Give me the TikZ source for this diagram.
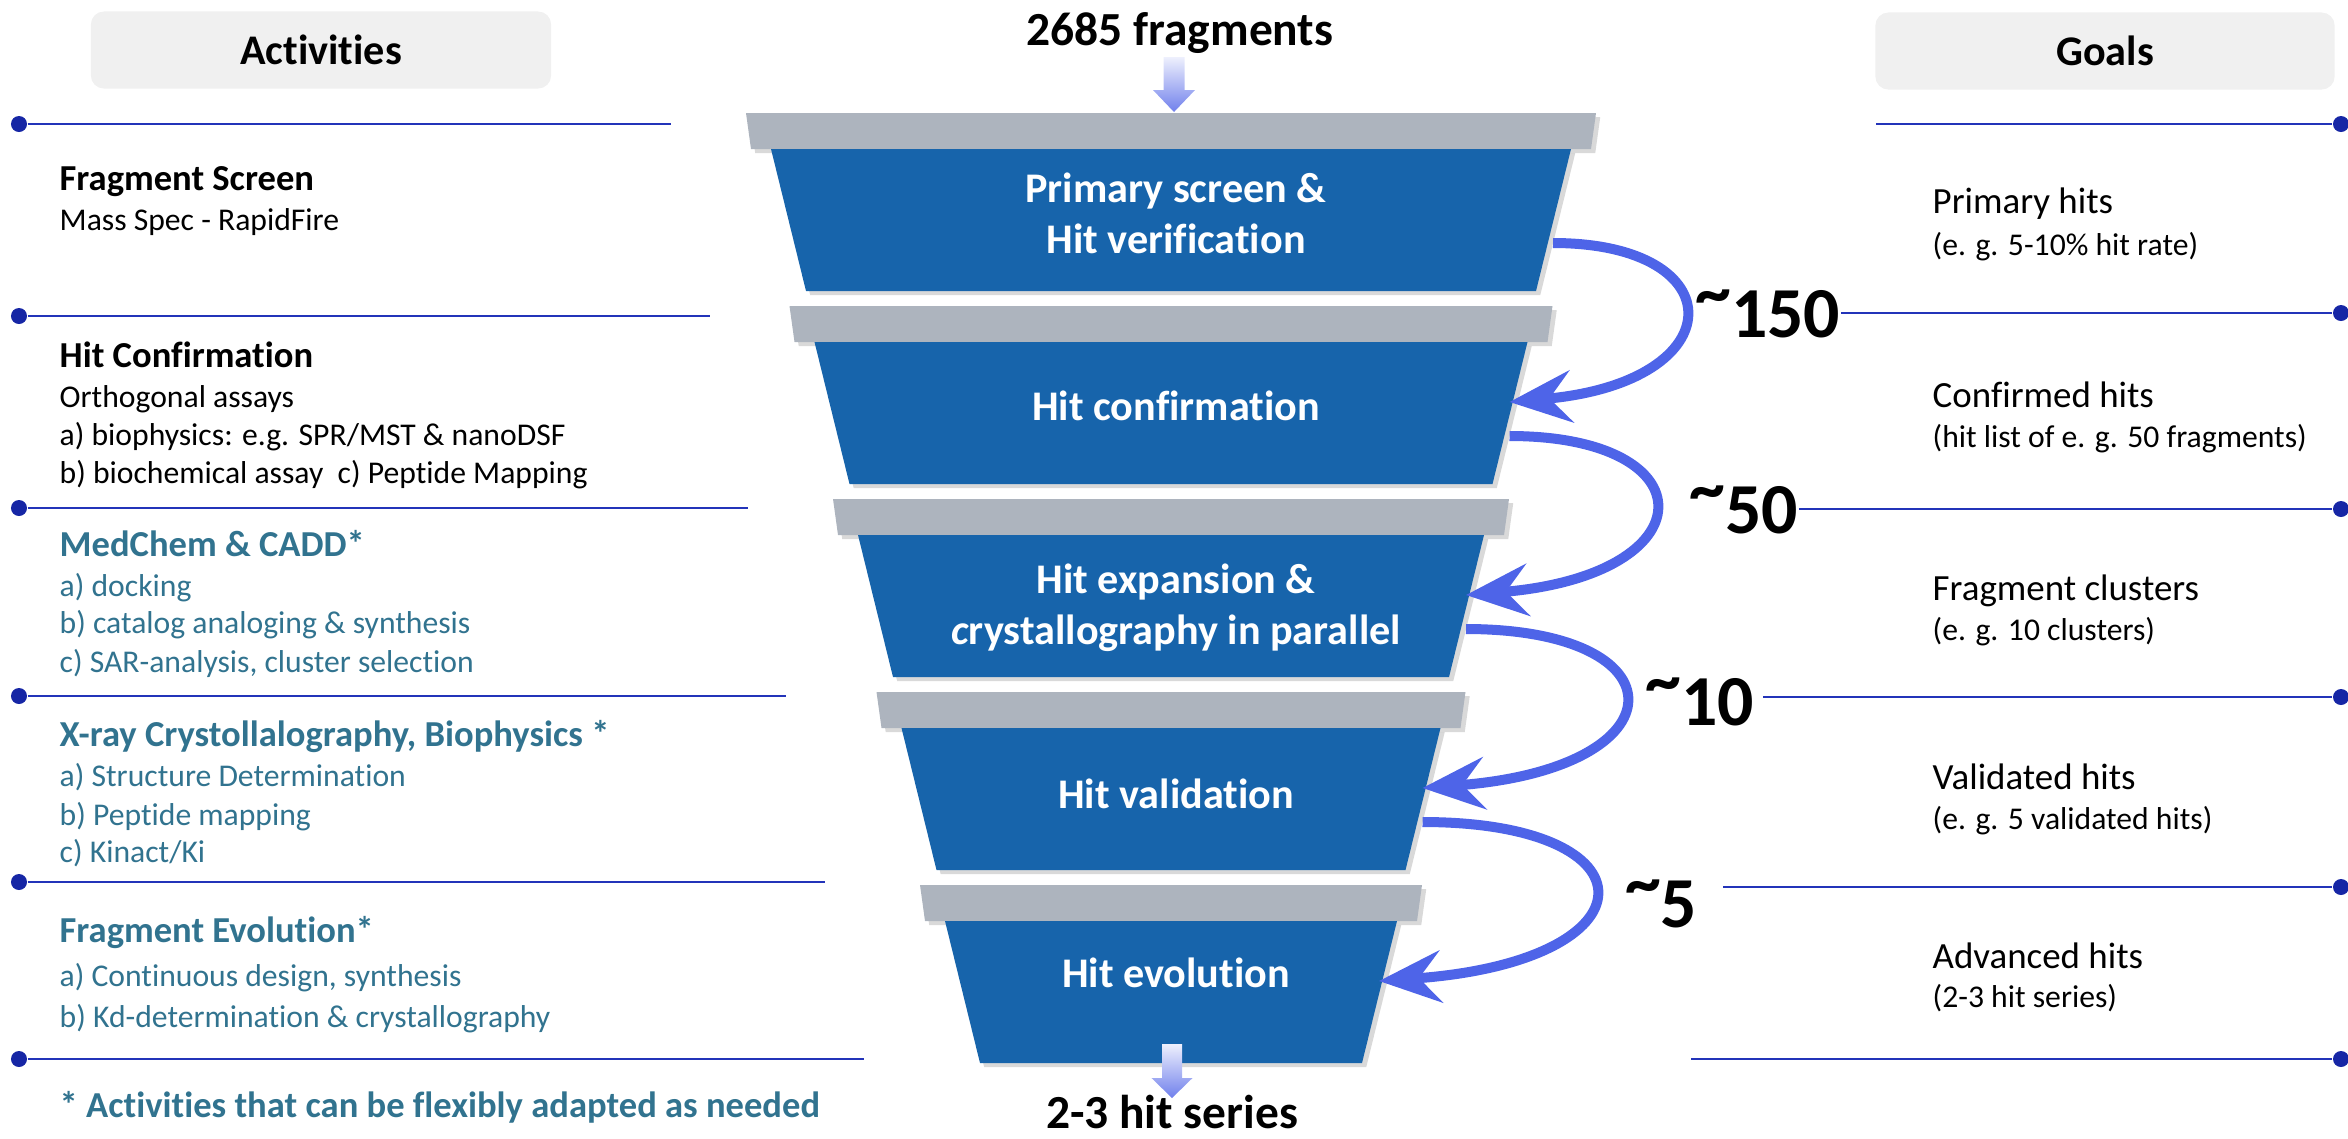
\documentclass[tikz,border=0pt]{standalone}
\usepackage{fontspec}
\setmainfont{Carlito}[Ligatures=NoCommon]
\usetikzlibrary{arrows.meta,shadows}

\definecolor{funnelblue}{RGB}{23,100,171}
\definecolor{capgray}{RGB}{173,180,190}
\definecolor{loopblue}{RGB}{78,100,232}
\definecolor{ruleblue}{RGB}{35,52,185}
\definecolor{dotblue}{RGB}{22,38,165}
\definecolor{acttext}{RGB}{49,115,143}
\definecolor{hdrgray}{RGB}{240,240,240}
\definecolor{arrowtop}{RGB}{238,240,253}
\definecolor{arrowbot}{RGB}{112,128,236}

\newcommand{\Approx}{\raisebox{0.28em}{\textasciitilde}}

\begin{document}
\begin{tikzpicture}[x=0.01cm, y=-0.01cm,
  hdr/.style={fill=hdrgray, rounded corners=0.13cm, minimum width=4.6cm, minimum height=0.77cm, inner sep=0pt, font=\fontsize{12}{14}\selectfont\bfseries},
  dot/.style={circle, fill=dotblue, inner sep=0pt, minimum size=0.16cm},
  rule/.style={draw=ruleblue, line width=0.7pt},
  stagerim/.style={fill=capgray, drop shadow={shadow xshift=1.2pt, shadow yshift=-1.2pt, opacity=0.3}},
  stagebody/.style={fill=funnelblue, drop shadow={shadow xshift=1.2pt, shadow yshift=-1.2pt, opacity=0.3}},
  stagetext/.style={text=white, align=center, inner sep=0pt, font=\fontsize{12}{14.5}\selectfont\bfseries},
  tally/.style={anchor=base east, inner sep=0pt, font=\fontsize{20.4}{24}\selectfont\bfseries},
  flow/.style={anchor=base, inner sep=0pt, font=\fontsize{13.5}{16}\selectfont\bfseries},
  feed/.style={draw=loopblue, line width=0.1cm, -{Stealth[length=0.62cm, width=0.52cm, inset=0.22cm]}},
  acthead/.style={anchor=base west, inner sep=0pt, font=\fontsize{10.4}{12}\selectfont\bfseries},
  act/.style={anchor=base west, inner sep=0pt, font=\fontsize{9}{11}\selectfont},
  tacthead/.style={acthead, text=acttext},
  tact/.style={act, text=acttext},
  goal/.style={anchor=base west, inner sep=0pt, font=\fontsize{10.5}{12}\selectfont},
  goalsub/.style={anchor=base west, inner sep=0pt, font=\fontsize{9}{11}\selectfont}]
\useasboundingbox (0,0) rectangle (2348,1138);

% headers
\node[hdr] (act) at (321,50) {Activities};
\node[hdr, minimum width=4.59cm] (goals) at (2105,51) {Goals};

% funnel stages: grey rim + blue body
\foreach \i in {0,...,4}{
  \pgfmathsetmacro\yt{113+193*\i}
  \pgfmathsetmacro\g{425-43.5*\i}
  \fill[stagerim] (1171-\g,\yt) -- (1171+\g,\yt) -- (1166+\g,\yt+36) -- (1176-\g,\yt+36) -- cycle;
  \fill[stagebody] (1196-\g,\yt+36) -- (1146+\g,\yt+36) -- (1111+\g,\yt+178) -- (1231-\g,\yt+178) -- cycle;
  \coordinate (in\i) at (1128+\g,\yt+96);
  \coordinate (out\i) at (1128+\g,\yt+130);
}

% stage labels
\node[stagetext] (s1) at (1176,213) {Primary screen \&\\Hit verification};
\node[stagetext, anchor=base] (s2) at (1176,420) {Hit confirmation};
\node[stagetext] (s3) at (1176,608) {Hit expansion \&\\\textit{c}rystallography in parallel};
\node[stagetext, anchor=base] (s4) at (1176,808) {Hit validation};
\node[stagetext, anchor=base] (s5) at (1176,987) {Hit evolution};

% input and output
\node[flow] (input) at (1180,45) {2685 fragments};
\node[flow] (output) at (1172,1128) {2-3 hit series};
\shade[top color=arrowtop, bottom color=arrowbot] (1163.5,57) -- (1184.5,57) -- (1184.5,90) -- (1195,90) -- (1174,112) -- (1153,90) -- (1163.5,90) -- cycle;
\shade[top color=arrowtop, bottom color=arrowbot] (1162,1044) -- (1182,1044) -- (1182,1078) -- (1192.5,1078) -- (1172,1098) -- (1151.5,1078) -- (1162,1078) -- cycle;

% curved arrows between stages
\foreach \i/\j in {0/1,1/2,2/3,3/4}{
  \pgfmathsetmacro\ca{182+18*\i}
  \pgfmathsetmacro\cb{225+18*\i}
  \draw[feed] (out\i) .. controls +(\ca,0) and +(\cb,-20) .. (in\j);
}

% counts
\node[tally] (n1) at (1841,337) {\Approx150};
\node[tally] (n2) at (1799,533) {\Approx50};
\node[tally] (n3) at (1755,725) {\Approx10};
\node[tally] (n4) at (1698,927) {\Approx5};

% left rules
\foreach \y/\xe [count=\k] in {124/671,316/710,508/748,696/786,882/825,1059/864}{
  \node[dot] (ld\k) at (19,\y) {};
  \coordinate (le\k) at (\xe,\y);
  \draw[rule] (ld\k) -- (le\k);
}

% right rules
\foreach \y/\xs [count=\k] in {124/1876,313/1841,509/1799,697/1763,887/1723,1059/1691}{
  \coordinate (rs\k) at (\xs,\y);
  \node[dot] (rd\k) at (2341,\y) {};
  \draw[rule] (rs\k) -- (rd\k);
}

% activities
\foreach \y/\s/\t [count=\k] in {
  190/acthead/Fragment Screen,
  230/act/Mass Spec - RapidFire,
  367/acthead/Hit Confirmation,
  407/act/Orthogonal assays,
  445/act/{a) biophysics: e.g. SPR/MST \& nanoDSF},
  483/act/{b) biochemical assay\ \ c) Peptide Mapping},
  556/tacthead/MedChem \& CADD*,
  596/tact/a) docking,
  633/tact/b) catalog analoging \& synthesis,
  672/tact/{c) SAR-analysis, cluster selection},
  746/tacthead/{X-ray Crystollalography, Biophysics *},
  786/tact/a) Structure Determination,
  825/tact/b) Peptide mapping,
  862/tact/{c) Kinact/Ki},
  942/tacthead/Fragment Evolution*,
  986/tact/{a) Continuous design, synthesis},
  1027/tact/b) Kd-determination \& crystallography,
  1117/tacthead/* Activities that can be flexibly adapted as needed}
  \node[\s] (a\k) at (59,\y) {\t};

% goals
\foreach \y/\s/\t [count=\k] in {
  213/goal/Primary hits,
  255/goalsub/(e. g. 5-10\% hit rate),
  407/goal/Confirmed hits,
  447/goalsub/(hit list of e. g. 50 fragments),
  600/goal/Fragment clusters,
  640/goalsub/(e. g. 10 clusters),
  789/goal/Validated hits,
  829/goalsub/(e. g. 5 validated hits),
  968/goal/Advanced hits,
  1007/goalsub/(2-3 hit series)}
  \node[\s] (g\k) at (1932,\y) {\t};
\end{tikzpicture}
\end{document}
